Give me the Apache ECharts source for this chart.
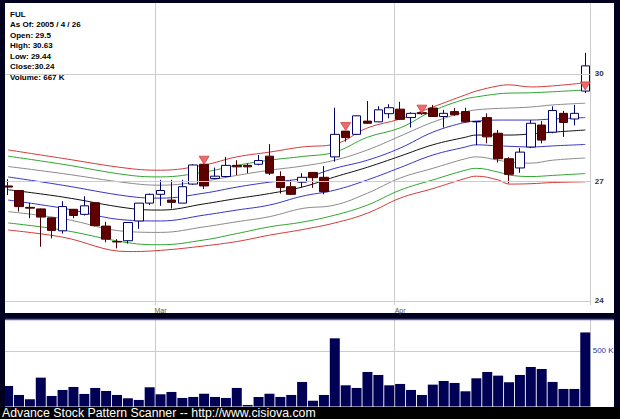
<!DOCTYPE html>
<html><head><meta charset="utf-8">
<script src="https://cdn.jsdelivr.net/npm/echarts@6/dist/echarts.min.js"></script>
<style>html,body{margin:0;padding:0;background:#000022;}#c{width:620px;height:419px;}</style>
</head><body><div id="c"></div>
<script>
const dates = ['2005-02-08','2005-02-09','2005-02-10','2005-02-11','2005-02-14','2005-02-15','2005-02-16','2005-02-17','2005-02-18','2005-02-22','2005-02-23','2005-02-24','2005-02-25','2005-02-28',
'2005-03-01','2005-03-02','2005-03-03','2005-03-04','2005-03-07','2005-03-08','2005-03-09','2005-03-10','2005-03-11','2005-03-14','2005-03-15','2005-03-16','2005-03-17','2005-03-18','2005-03-21','2005-03-22','2005-03-23','2005-03-24','2005-03-28','2005-03-29','2005-03-30','2005-03-31',
'2005-04-01','2005-04-04','2005-04-05','2005-04-06','2005-04-07','2005-04-08','2005-04-11','2005-04-12','2005-04-13','2005-04-14','2005-04-15','2005-04-18','2005-04-19','2005-04-20','2005-04-21','2005-04-22','2005-04-25','2005-04-26'];
const opens  = [26.87,26.75,26.31,26.27,26.04,25.71,26.26,26.13,26.43,25.83,25.44,25.46,25.96,26.42,26.65,26.50,26.42,26.92,27.45,27.07,27.12,27.42,27.42,27.45,27.67,27.12,26.85,26.97,27.23,27.10,27.65,28.36,28.27,28.64,28.62,28.85,28.98,28.74,28.88,29.01,28.77,28.91,28.91,28.62,28.74,28.30,27.60,27.35,27.92,28.53,28.33,28.86,28.70,29.50];
const closes = [26.84,26.33,26.29,26.06,25.72,26.33,26.10,26.35,25.84,25.50,25.43,25.92,26.42,26.65,26.75,26.44,26.85,27.43,26.87,27.13,27.42,27.38,27.38,27.55,27.21,26.83,26.65,27.10,27.09,26.72,28.27,28.18,28.79,28.58,28.96,29.02,28.69,28.86,28.85,28.77,28.86,28.82,28.62,28.63,28.20,27.60,27.18,27.78,28.58,28.11,28.94,28.60,28.86,30.24];
const lows   = [26.63,26.20,26.03,25.31,25.52,25.64,26.03,26.10,25.82,25.42,25.27,25.39,25.76,26.37,26.35,26.28,26.42,26.90,26.79,27.05,27.10,27.16,27.21,27.42,27.16,26.67,26.63,26.83,26.82,26.65,27.52,28.07,28.25,28.56,28.61,28.72,28.67,28.46,28.82,28.76,28.46,28.79,28.60,27.97,28.02,27.50,26.94,27.22,27.89,28.02,28.30,28.20,28.52,29.44];
const highs  = [27.05,26.76,26.43,26.28,26.05,26.47,26.27,26.60,26.44,25.94,25.50,25.93,26.42,26.67,27.03,27.03,27.03,27.45,27.47,27.36,27.65,27.56,27.47,27.70,28.00,27.26,27.03,27.21,27.24,27.40,29.02,28.36,28.80,29.21,29.06,29.12,29.19,28.89,28.96,29.10,28.96,29.01,29.02,28.64,28.86,28.39,27.64,27.89,28.67,28.64,29.06,28.93,29.10,30.63];
const volumes = [185,104,65,260,95,149,176,113,167,140,104,74,59,173,110,131,77,86,115,86,77,167,14,86,115,86,104,221,52,104,614,191,167,311,284,191,203,149,104,197,230,212,137,254,311,278,218,284,356,338,221,158,158,667];

const bandIdx = [0,5,11,14,18,21,24,27,30,33,36,39,42,43,45,46,48,50,53];
const upperRed   = [27.84,27.61,27.34,27.29,27.43,27.65,27.78,27.92,28.00,28.45,28.70,29.04,29.39,29.50,29.65,29.68,29.62,29.65,29.74];
const upperGreen = [27.67,27.45,27.16,27.11,27.24,27.42,27.56,27.66,27.78,28.19,28.45,28.93,29.27,29.33,29.42,29.44,29.45,29.48,29.53];
const upperGray  = [27.39,27.20,26.95,26.89,27.00,27.15,27.29,27.40,27.56,27.84,28.22,28.61,28.90,28.96,29.00,29.01,29.04,29.10,29.15];
const upperBlue  = [27.11,26.89,26.60,26.55,26.68,26.84,26.97,27.07,27.34,27.56,27.89,28.33,28.61,28.64,28.67,28.67,28.67,28.70,28.74];
const midBlack   = [26.77,26.58,26.29,26.24,26.40,26.54,26.67,26.84,27.11,27.37,27.67,27.98,28.19,28.25,28.25,28.25,28.28,28.33,28.39];
const lowerBlue  = [26.50,26.29,25.98,25.96,26.11,26.24,26.37,26.60,26.76,27.03,27.36,27.70,27.92,27.98,27.95,27.94,27.92,27.95,27.99];
const lowerGray  = [26.20,26.02,25.69,25.67,25.81,25.94,26.07,26.28,26.37,26.68,27.08,27.34,27.60,27.65,27.56,27.51,27.48,27.56,27.62];
const lowerGreen = [25.91,25.73,25.41,25.36,25.48,25.64,25.81,25.93,26.11,26.37,26.76,27.03,27.29,27.34,27.24,27.16,27.12,27.15,27.20];
const lowerRed   = [25.73,25.55,25.19,25.22,25.33,25.44,25.60,25.74,25.91,26.16,26.55,26.80,27.07,27.13,27.03,26.92,26.93,26.96,26.98];

const signalIdx = [18,31,38,53];
const signalVal = [27.56,28.49,28.98,29.65];

const priceTicks = [24,27,30];
const volumeTicks = [500];
const monthStarts = {14:'Mar',36:'Apr'};

const info = ['FUL','As Of: 2005 / 4 / 26','Open: 29.5','High: 30.63','Low: 29.44','Close:30.24','Volume: 667 K'];
const footer = 'Advance Stock Pattern Scanner -- http://www.cisiova.com';

const frame = '#00001f';
const chart = echarts.init(document.getElementById('c'), null, {renderer:'svg', width:620, height:419});

function band(vals, color){
  return {type:'line', xAxisIndex:0, yAxisIndex:0, data: bandIdx.map((x,k)=>[x, vals[k]]), smooth:0.4, symbol:'none',
    lineStyle:{color:color, width:1}, z:2, silent:true, animation:false};
}
const isMonth = (i)=> monthStarts[i] !== undefined;

const graphics = [
  {type:'rect', shape:{x:5,y:3,width:609,height:310}, style:{fill:'#ffffff'}, z:-10, silent:true},
  {type:'rect', shape:{x:5,y:319,width:609,height:88}, style:{fill:'#ffffff'}, z:-10, silent:true},
  {type:'line', shape:{x1:5,y1:319.5,x2:614,y2:319.5}, style:{stroke:'#5a5ac0', lineWidth:1.5}, z:50, silent:true},
  {type:'rect', shape:{x:0,y:0,width:5,height:419}, style:{fill:frame}, z:100, silent:true},
  {type:'rect', shape:{x:0,y:407,width:620,height:12}, style:{fill:'#000000'}, z:100, silent:true},
  {type:'text', x:2, y:413, style:{text:footer, fill:'#ffffff', font:'12.3px "Liberation Sans", Arial, sans-serif', textVerticalAlign:'middle'}, z:101, silent:true}
];
info.forEach((t,k)=>{
  graphics.push({type:'text', x:10, y:14 + k*10.5, style:{text:t, fill:'#000000', font:'bold 8px "Liberation Sans", Arial, sans-serif', textVerticalAlign:'middle'}, z:60, silent:true});
});

const option = {
  backgroundColor: frame,
  animation:false,
  graphic: graphics,
  grid:[
    {left:2.66, right:29.3, top:3, height:302},
    {left:2.66, right:29.3, top:320, height:86.5}
  ],
  xAxis:[
    {type:'category', gridIndex:0, data:dates, boundaryGap:true,
     axisLine:{show:false}, axisTick:{show:false},
     axisLabel:{interval:(i)=>isMonth(i), formatter:(v,i)=>monthStarts[i]||'', fontSize:7, color:'#555', margin:2, fontFamily:'Liberation Sans'},
     splitLine:{show:true, interval:(i)=>isMonth(i), lineStyle:{color:'#cccccc', width:1}}},
    {type:'category', gridIndex:1, data:dates, boundaryGap:true,
     axisLine:{show:false}, axisTick:{show:false}, axisLabel:{show:false},
     splitLine:{show:true, interval:(i)=>isMonth(i), lineStyle:{color:'#cccccc', width:1}}}
  ],
  yAxis:[
    {type:'log', logBase:10, gridIndex:0, min:23.90, max:32.17, show:false, splitLine:{show:false}},
    {type:'value', gridIndex:1, min:0, max:779, show:false, splitLine:{show:false}}
  ],
  series:[
    {type:'line', xAxisIndex:0, yAxisIndex:0, data:[], z:1, silent:true,
     markLine:{silent:true, symbol:'none', animation:false,
       lineStyle:{color:'#cccccc', type:'solid', width:1},
       label:{position:'end', distance:4, formatter:(p)=>String(p.value), color:'#333', fontSize:8, fontWeight:'bold', fontFamily:'Liberation Sans'},
       data: priceTicks.map(v=>({yAxis:v}))}},
    band(upperRed,'#d23a3a'), band(upperGreen,'#2fa52f'), band(upperGray,'#8a8a8a'), band(upperBlue,'#3535c8'),
    band(midBlack,'#111111'),
    band(lowerBlue,'#3535c8'), band(lowerGray,'#8a8a8a'), band(lowerGreen,'#2fa52f'), band(lowerRed,'#d23a3a'),
    {type:'candlestick', xAxisIndex:0, yAxisIndex:0, z:3, barWidth:9,
     data: dates.map((d,i)=>[opens[i], closes[i], lows[i], highs[i]]),
     itemStyle:{color:'#ffffff', color0:'#5e0000', borderColor:'#000066', borderColor0:'#4a0000', borderWidth:1}},
    {type:'scatter', xAxisIndex:0, yAxisIndex:0, z:4, symbol:'triangle', symbolRotate:180, symbolSize:[10,8],
     data: signalIdx.map((x,k)=>[x, signalVal[k]]),
     itemStyle:{color:'#ee6a6a', borderColor:'#c84848', borderWidth:0.8, opacity:1}},
    {type:'bar', xAxisIndex:1, yAxisIndex:1, data:volumes, barWidth:10, z:3,
     itemStyle:{color:'#000055'},
     markLine:{silent:true, symbol:'none', animation:false, z:1,
       lineStyle:{color:'#cccccc', type:'solid', width:1},
       label:{position:'end', distance:2, formatter:(p)=>p.value+' K', color:'#333399', fontSize:8, fontFamily:'Liberation Sans'},
       data: volumeTicks.map(v=>({yAxis:v}))}}
  ]
};
chart.setOption(option);
</script></body></html>
